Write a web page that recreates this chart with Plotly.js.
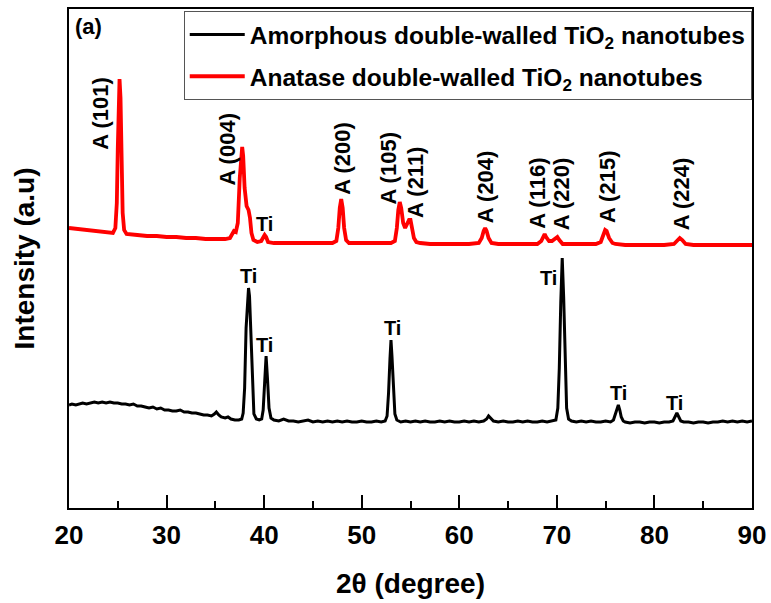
<!DOCTYPE html>
<html>
<head>
<meta charset="utf-8">
<script src="https://cdn.plot.ly/plotly-3.0.1.min.js"></script>
<style>html,body{margin:0;padding:0;background:#fff;}#chart{width:771px;height:603px;}</style>
</head>
<body>
<div id="chart"></div>
<script>
// ---- Data (2θ in degrees, intensity in arbitrary units) ----
const blackX = [20.0,20.3,20.7,21.0,21.4,21.8,22.2,22.6,23.0,23.4,23.8,24.2,24.6,25.0,25.4,25.8,26.2,26.6,27.0,27.4,27.8,28.2,28.6,29.0,29.4,29.8,30.2,30.6,31.0,31.4,31.8,32.2,32.6,33.0,33.4,33.8,34.2,34.6,34.9,35.1,35.35,35.6,36.0,36.3,36.6,37.0,37.4,37.7,37.85,38.0,38.15,38.3,38.4,38.5,38.65,38.8,38.95,39.2,39.5,39.75,39.9,40.05,40.2,40.35,40.5,40.7,41.0,41.5,42.0,42.5,43.0,43.5,44.0,44.5,45.0,45.5,46.0,46.5,47.0,47.5,48.0,48.5,49.0,49.5,50.0,50.5,51.0,51.5,52.0,52.4,52.6,52.75,52.9,53.0,53.1,53.25,53.4,53.6,54.0,54.5,55.0,55.5,56.0,56.5,57.0,57.5,58.0,58.5,59.0,59.5,60.0,60.5,61.0,61.5,62.0,62.5,62.8,63.0,63.2,63.5,64.0,64.5,65.0,65.5,66.0,66.5,67.0,67.5,68.0,68.5,69.0,69.5,69.9,70.1,70.25,70.4,70.55,70.7,70.85,71.0,71.2,71.5,72.0,72.5,73.0,73.5,74.0,74.5,75.0,75.5,75.8,76.0,76.15,76.3,76.45,76.6,76.8,77.0,77.5,78.0,78.5,79.0,79.5,80.0,80.5,81.0,81.5,81.9,82.1,82.3,82.5,82.7,83.0,83.5,84.0,84.5,85.0,85.5,86.0,86.5,87.0,87.5,88.0,88.5,89.0,89.5,90.0];
const blackY = [103,104,103,104,105,104,105,106,105,106,105,106,105,105,104,104,103,104,102,102,101,100,101,99,100,98,98,97,97,98,96,96,95,95,94,93,93,92,94,96,93,91,90,91,89,88,88,89,95,120,180,212,220,212,175,120,94,89,88,89,98,125,152,128,100,90,88,87,89,87,87,86,87,88,86,87,86,87,86,87,86,87,86,86,87,86,86,87,86,87,92,115,150,168,152,118,94,88,86,87,86,87,86,87,86,86,87,86,87,86,86,87,86,87,86,87,89,92,90,87,86,87,86,86,87,86,87,86,86,87,86,87,88,100,140,205,250,210,145,100,89,87,86,87,86,87,86,86,87,86,88,94,100,103,98,91,87,86,85,86,86,85,86,86,85,86,86,87,91,95,91,87,86,86,85,86,86,85,86,86,87,86,87,86,87,86,87];

const redX = [20.0,21.0,22.0,23.0,24.0,24.5,24.75,24.9,25.0,25.1,25.18,25.28,25.38,25.5,25.65,25.9,27.0,28.0,29.0,30.0,31.0,32.0,33.0,34.0,35.0,36.0,36.5,36.75,36.9,37.1,37.3,37.5,37.65,37.75,37.85,38.0,38.2,38.4,38.55,38.7,38.9,39.3,39.7,39.9,40.05,40.2,40.4,41.0,42.0,43.0,44.0,45.0,46.0,47.0,47.4,47.6,47.75,47.9,48.05,48.2,48.4,48.7,50.0,51.0,52.0,53.0,53.4,53.6,53.75,53.9,54.05,54.25,54.45,54.65,54.85,55.0,55.15,55.35,55.6,56.0,57.0,58.0,59.0,60.0,61.0,62.0,62.3,62.5,62.65,62.8,63.0,63.3,64.0,65.0,66.0,67.0,68.0,68.4,68.6,68.75,68.9,69.2,69.5,69.85,70.05,70.25,70.6,71.0,72.0,73.0,74.0,74.5,74.75,74.95,75.1,75.35,75.7,76.0,77.0,78.0,79.0,80.0,81.0,82.0,82.35,82.6,82.85,83.2,84.0,85.0,86.0,87.0,88.0,89.0,90.0];
const redY = [280,279,278,277,276,275,280,305,360,415,429,410,350,295,278,274,273,272,272,271,271,270,270,269,269,269,270,275,277,276,285,330,358,361,352,320,302,298,290,275,268,266,267,271,273,271,266,265,265,265,265,265,265,265,267,280,300,309,300,280,268,265,265,265,265,265,267,280,298,306,300,285,280,284,288,288,282,270,266,265,264,264,264,264,264,265,270,277,280,277,270,265,264,264,264,264,264,267,272,274,271,267,267,270,271,268,264,264,264,264,264,266,272,278,277,270,265,264,263,263,263,263,263,264,268,270,268,264,263,263,263,263,263,263,263];

const seriesNames = ['Amorphous double-walled TiO<sub>2</sub> nanotubes', 'Anatase double-walled TiO<sub>2</sub> nanotubes'];

// Peak labels for the anatase pattern
const anataseLabels = ['A (101)','A (004)','A (200)','A (105)','A (211)','A (204)','A (116)','A (220)','A (215)','A (224)'];
const anataseLabelX = [23.2,36.2,48.0,52.7,55.5,62.7,68.0,70.5,75.2,82.8];
const anataseLabelY = [356,320,311,301,288,283,277,276,283,276];

// Ti labels (first on the anatase pattern, the rest on the amorphous pattern)
const tiLabelX = [40.0,38.35,40.0,53.2,69.1,76.3,82.1];
const tiLabelY = [284,232,163,180,230,115,105];

const xTickVals = [20,30,40,50,60,70,80,90];

// ---- Chart ----
const FONT = 'Liberation Sans, Arial, Helvetica, sans-serif';

const traces = [
  {x: blackX, y: blackY, type: 'scatter', mode: 'lines', name: seriesNames[0],
   line: {color: '#000000', width: 3}, legendgroup: 'a'},
  {x: redX, y: redY, type: 'scatter', mode: 'lines', name: seriesNames[1],
   line: {color: '#ff0000', width: 3.8}, legendgroup: 'b'}
];

const annotations = [];
anataseLabels.forEach((t, i) => {
  annotations.push({x: anataseLabelX[i], y: anataseLabelY[i], xref: 'x', yref: 'y',
    text: t, showarrow: false, textangle: -90, xanchor: 'center', yanchor: 'bottom',
    font: {family: FONT, size: 22, color: '#000', weight: 'bold'}});
});
tiLabelX.forEach((x, i) => {
  annotations.push({x: x, y: tiLabelY[i], xref: 'x', yref: 'y', text: 'Ti', showarrow: false,
    xanchor: 'center', yanchor: 'middle',
    font: {family: FONT, size: 20, color: '#000', weight: 'bold'}});
});
annotations.push({x: 0.006, y: 0.993, xref: 'paper', yref: 'paper', text: '(a)', showarrow: false,
  xanchor: 'left', yanchor: 'top', font: {family: FONT, size: 22, color: '#000', weight: 'bold'}});

const layout = {
  width: 771, height: 603,
  margin: {l: 69, r: 19, t: 9, b: 95},
  paper_bgcolor: '#fff', plot_bgcolor: '#fff',
  showlegend: true,
  legend: {x: 0.168, xanchor: 'left', y: 0.996, yanchor: 'top',
    bgcolor: '#fff', bordercolor: '#555', borderwidth: 1,
    traceorder: 'grouped', tracegroupgap: 7, itemwidth: 55,
    font: {family: FONT, size: 24.5, color: '#000', weight: 'bold'}},
  xaxis: {range: [20, 90], tickvals: xTickVals, ticks: 'inside', ticklen: 13, tickwidth: 2, tickcolor: '#000',
    minor: {dtick: 5, ticks: 'inside', ticklen: 7, tickwidth: 2, tickcolor: '#000'},
    showline: true, linecolor: '#000', linewidth: 2, mirror: true, showgrid: false, zeroline: false,
    ticklabelstandoff: 3,
    tickfont: {family: FONT, size: 26, color: '#000', weight: 'bold'},
    title: {text: '2θ (degree)', standoff: 24, font: {family: FONT, size: 28, color: '#000', weight: 'bold'}}},
  yaxis: {range: [0, 499], showticklabels: false, ticks: '', showline: true, linecolor: '#000', linewidth: 2,
    mirror: true, showgrid: false, zeroline: false,
    title: {text: 'Intensity (a.u)', standoff: 24, font: {family: FONT, size: 28, color: '#000', weight: 'bold'}}},
  annotations: annotations
};

Plotly.newPlot('chart', traces, layout, {displayModeBar: false, staticPlot: true});
</script>
</body>
</html>
